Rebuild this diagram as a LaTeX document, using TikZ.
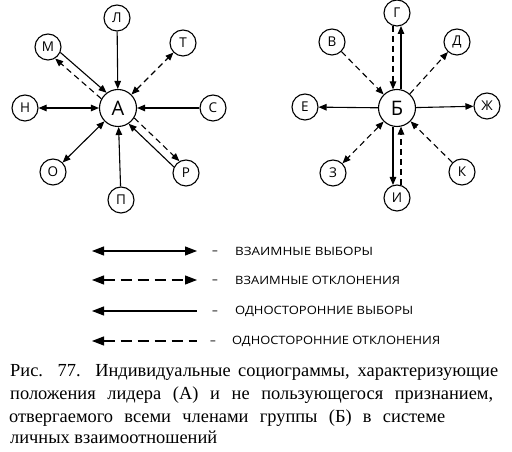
\documentclass[tikz,border=0pt]{standalone}
\usepackage{fontspec}
\setmainfont{Liberation Serif}
\newfontfamily\labfont{Open Sans}
\usetikzlibrary{arrows.meta,calc}
\begin{document}
\begin{tikzpicture}[x=1pt,y=1pt,
  pers/.style={circle,draw,line width=1.1pt,minimum size=26pt,inner sep=0pt,font=\labfont\fontsize{13.5}{13.5}\selectfont},
  lead/.style={pers,minimum size=37pt,font=\labfont\fontsize{20}{20}\selectfont},
  con/.style={line width=1.1pt},
  dsh/.style={con,dash pattern=on 6pt off 4pt},
  onew/.style={-{Triangle[length=8pt,width=6.5pt]}},
  twoway/.style={{Triangle[length=8pt,width=6.5pt]}-{Triangle[length=8pt,width=6.5pt]}},
  lgone/.style={{Triangle[length=12pt,width=9pt]}-},
  lgtwo/.style={{Triangle[length=12pt,width=9pt]}-{Triangle[length=12pt,width=9pt]}},
  lgdsh/.style={con,dash pattern=on 11pt off 6pt},
  lgtext/.style={anchor=west,inner sep=0pt,font=\labfont\fontsize{11.5}{12}\selectfont},
  lgdash/.style={anchor=base,inner sep=0pt,font=\labfont\fontsize{11.5}{12}\selectfont},
  capline/.style={anchor=base west,inner sep=0pt,font=\fontsize{18.4}{22}\selectfont}
]
\useasboundingbox[fill=white] (0,0) rectangle (512,452);
% ---------- left sociogram ----------
\node[lead] (A) at (118,344) {А};
\node[pers] (L) at (117,434) {Л};
\node[pers] (T) at (183,409) {Т};
\node[pers] (S) at (213,344) {С};
\node[pers] (R) at (186,279) {Р};
\node[pers] (P) at (121,252) {П};
\node[pers] (O) at (53,280) {О};
\node[pers] (N) at (25,344) {Н};
\node[pers] (M) at (48,405) {М};
\draw[con,onew] (L) -- (A);
\draw[dsh,twoway] (A) -- (T);
\draw[con,onew] (S) -- (A);
\draw[con,onew] (P) -- (A);
\draw[con,twoway] (A) -- (O);
\draw[con,twoway] (A) -- (N);
% M pair
\draw[con,onew] ($(M)!13pt!(A)!4pt!90:(A)$) -- ($(A)!18.6pt!(M)!4pt!-90:(M)$);
\draw[dsh,onew] ($(A)!18.6pt!(M)!4pt!90:(M)$) -- ($(M)!13pt!(A)!4pt!-90:(A)$);
% R pair
\draw[dsh,onew] ($(A)!18.6pt!(R)!4pt!90:(R)$) -- ($(R)!13pt!(A)!4pt!-90:(A)$);
\draw[con,onew] ($(R)!13pt!(A)!4pt!90:(A)$) -- ($(A)!18.6pt!(R)!4pt!-90:(R)$);
% ---------- right sociogram ----------
\node[lead] (B) at (397,344) {Б};
\node[pers] (G) at (397,439) {Г};
\node[pers] (V) at (332,410) {В};
\node[pers] (D) at (457,410) {Д};
\node[pers] (Zh) at (487,346) {Ж};
\node[pers] (K) at (462,280) {К};
\node[pers] (I) at (397,254) {И};
\node[pers] (Z) at (333,279) {З};
\node[pers] (E) at (305,345) {Е};
\draw[dsh,onew] (V) -- (B);
\draw[dsh,onew] (B) -- (D);
\draw[con,onew] (B) -- (Zh);
\draw[dsh,onew] (K) -- (B);
\draw[dsh,twoway] (B) -- (Z);
\draw[con,onew] (B) -- (E);
% G pair
\draw[dsh,onew] ($(G)!13pt!(B)!4pt!-90:(B)$) -- ($(B)!18.6pt!(G)!4pt!90:(G)$);
\draw[con,onew] ($(B)!18.6pt!(G)!4pt!-90:(G)$) -- ($(G)!13pt!(B)!4pt!90:(B)$);
% I pair
\draw[dsh,onew] ($(I)!13pt!(B)!4pt!-90:(B)$) -- ($(B)!18.6pt!(I)!4pt!90:(I)$);
\draw[con,onew] ($(B)!18.6pt!(I)!4pt!-90:(I)$) -- ($(I)!13pt!(B)!4pt!90:(B)$);
% ---------- legend ----------
\coordinate (l1a) at (92,201); \coordinate (l1b) at (197,201);
\coordinate (l2a) at (92,172); \coordinate (l2b) at (197,172);
\coordinate (l3a) at (92,141); \coordinate (l3b) at (197,141);
\coordinate (l4a) at (92,111); \coordinate (l4b) at (197,111);
\draw[con,lgtwo] (l1a) -- (l1b);
\draw[lgdsh,lgtwo] (l2a) -- (l2b);
\draw[con,lgone] (l3a) -- (l3b);
\draw[lgdsh,lgone] (l4a) -- (l4b);
\node[lgdash] (d1) at (215,197) {–};
\node[lgdash] (d2) at (215,168) {–};
\node[lgdash] (d3) at (215,137) {–};
\node[lgdash] (d4) at (213,107) {–};
\node[lgtext] (t1) at (235,201) {\resizebox{138pt}{\height}{ВЗАИМНЫЕ ВЫБОРЫ}};
\node[lgtext] (t2) at (235,172) {\resizebox{165pt}{\height}{ВЗАИМНЫЕ ОТКЛОНЕНИЯ}};
\node[lgtext] (t3) at (235,141) {\resizebox{178pt}{\height}{ОДНОСТОРОННИЕ ВЫБОРЫ}};
\node[lgtext] (t4) at (232,111) {\resizebox{208pt}{\height}{ОДНОСТОРОННИЕ ОТКЛОНЕНИЯ}};
% ---------- caption ----------
\node[capline] (c1) at (10,75) {\makebox[488pt][s]{Рис. 77. Индивидуальные социограммы, характеризующие}};
\node[capline] (c2) at (10,52) {\makebox[483pt][s]{положения лидера (А) и не пользующегося признанием,}};
\node[capline] (c3) at (9,29) {\makebox[436pt][s]{отвергаемого всеми членами группы (Б) в системе}};
\node[capline] (c4) at (10,8) {личных взаимоотношений};
\end{tikzpicture}
\end{document}
